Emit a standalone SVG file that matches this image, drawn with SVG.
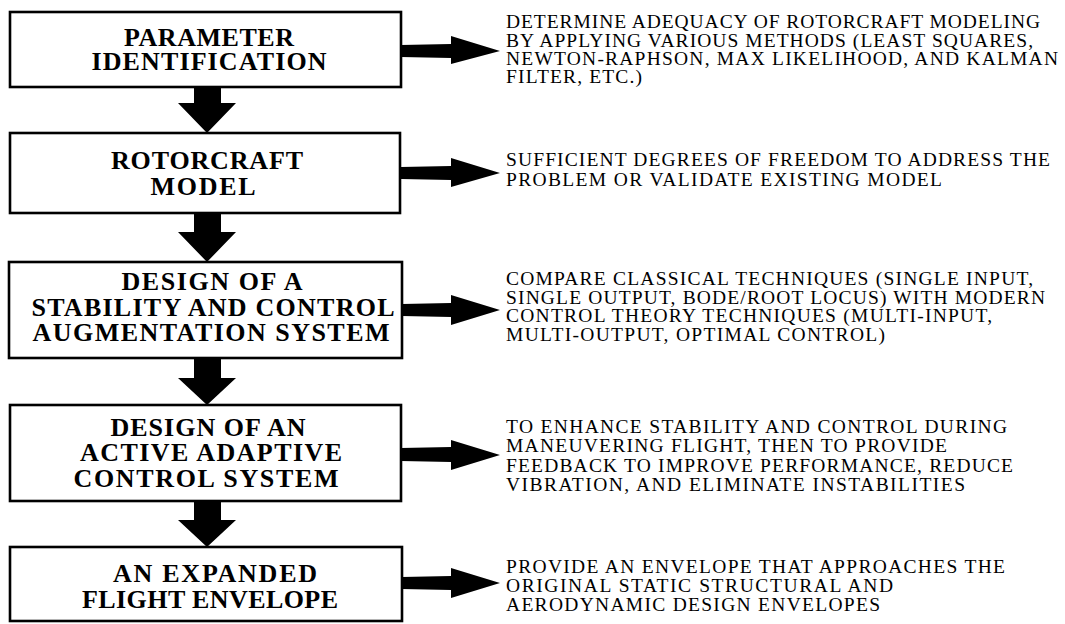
<svg xmlns="http://www.w3.org/2000/svg" width="1065" height="624" viewBox="0 0 1065 624">
<style>
.box{fill:#fff;stroke:#000;stroke-width:2.6}
.t{font-family:"Liberation Serif","Times New Roman",serif;font-weight:bold;font-size:26px;text-anchor:middle;fill:#000}
.d{font-family:"Liberation Serif","Times New Roman",serif;font-size:19.5px;fill:#000}
.arr{fill:#000;stroke:none}
</style>
<rect width="1065" height="624" fill="#fff"/>
<g id="connectors">
<polygon class="arr" points="194,86 221,86 221,103 236,103 207,133 178,103 194,103"/>
<polygon class="arr" points="194,212 221,212 221,232 236,232 207,262 178,232 194,232"/>
<polygon class="arr" points="194,357 221,357 221,378 236,378 207,405 178,378 194,378"/>
<polygon class="arr" points="194,500 221,500 221,520 236,520 207,547 178,520 194,520"/>
<polygon class="arr" points="401,45 451,44 451,36 500,51 451,64 451,58 401,57"/>
<polygon class="arr" points="401,167 451,166 451,158 500,173 451,187 451,180 401,179"/>
<polygon class="arr" points="402,304 451,303 451,295 500,310 451,325 451,317 402,316"/>
<polygon class="arr" points="401,448 451,447 451,440 500,455 451,470 451,462 401,461"/>
<polygon class="arr" points="402,577 451,576 451,568 500,583 451,598 451,590 402,589"/>
</g>
<g id="n1">
<rect class="box" x="10" y="12" width="391" height="75"/>
<text class="t"><tspan x="209" y="46" textLength="170" lengthAdjust="spacing">PARAMETER</tspan><tspan x="209" y="70" textLength="235" lengthAdjust="spacing">IDENTIFICATION</tspan></text>
</g>
<g id="n2">
<rect class="box" x="10" y="133" width="390" height="80"/>
<text class="t"><tspan x="207" y="169" textLength="192" lengthAdjust="spacing">ROTORCRAFT</tspan><tspan x="203" y="195" textLength="105" lengthAdjust="spacing">MODEL</tspan></text>
</g>
<g id="n3">
<rect class="box" x="9" y="262" width="393" height="96"/>
<text class="t"><tspan x="212" y="290" textLength="181" lengthAdjust="spacing">DESIGN OF A</tspan><tspan x="213" y="316" textLength="363" lengthAdjust="spacing">STABILITY AND CONTROL</tspan><tspan x="211" y="341" textLength="357" lengthAdjust="spacing">AUGMENTATION SYSTEM</tspan></text>
</g>
<g id="n4">
<rect class="box" x="10" y="405" width="391" height="96"/>
<text class="t"><tspan x="208" y="436" textLength="195" lengthAdjust="spacing">DESIGN OF AN</tspan><tspan x="211" y="461" textLength="262" lengthAdjust="spacing">ACTIVE ADAPTIVE</tspan><tspan x="206" y="487" textLength="265" lengthAdjust="spacing">CONTROL SYSTEM</tspan></text>
</g>
<g id="n5">
<rect class="box" x="10" y="547" width="392" height="74"/>
<text class="t"><tspan x="215" y="582" textLength="204" lengthAdjust="spacing">AN EXPANDED</tspan><tspan x="210" y="608" textLength="256" lengthAdjust="spacing">FLIGHT ENVELOPE</tspan></text>
</g>
<g id="d1">
<text class="d"><tspan x="506" y="28" textLength="534" lengthAdjust="spacing">DETERMINE ADEQUACY OF ROTORCRAFT MODELING</tspan><tspan x="506" y="46.5" textLength="527" lengthAdjust="spacing">BY APPLYING VARIOUS METHODS (LEAST SQUARES,</tspan><tspan x="506" y="65" textLength="552" lengthAdjust="spacing">NEWTON-RAPHSON, MAX LIKELIHOOD, AND KALMAN</tspan><tspan x="506" y="83" textLength="136" lengthAdjust="spacing">FILTER, ETC.)</tspan></text>
</g>
<g id="d2">
<text class="d"><tspan x="506" y="166" textLength="544" lengthAdjust="spacing">SUFFICIENT DEGREES OF FREEDOM TO ADDRESS THE</tspan><tspan x="506" y="186" textLength="436" lengthAdjust="spacing">PROBLEM OR VALIDATE EXISTING MODEL</tspan></text>
</g>
<g id="d3">
<text class="d"><tspan x="506" y="285" textLength="527" lengthAdjust="spacing">COMPARE CLASSICAL TECHNIQUES (SINGLE INPUT,</tspan><tspan x="506" y="304" textLength="539" lengthAdjust="spacing">SINGLE OUTPUT, BODE/ROOT LOCUS) WITH MODERN</tspan><tspan x="506" y="322" textLength="486" lengthAdjust="spacing">CONTROL THEORY TECHNIQUES (MULTI-INPUT,</tspan><tspan x="506" y="341" textLength="379" lengthAdjust="spacing">MULTI-OUTPUT, OPTIMAL CONTROL)</tspan></text>
</g>
<g id="d4">
<text class="d"><tspan x="506" y="433" textLength="501" lengthAdjust="spacing">TO ENHANCE STABILITY AND CONTROL DURING</tspan><tspan x="506" y="452" textLength="441" lengthAdjust="spacing">MANEUVERING FLIGHT, THEN TO PROVIDE</tspan><tspan x="506" y="472" textLength="507" lengthAdjust="spacing">FEEDBACK TO IMPROVE PERFORMANCE, REDUCE</tspan><tspan x="506" y="491" textLength="459" lengthAdjust="spacing">VIBRATION, AND ELIMINATE INSTABILITIES</tspan></text>
</g>
<g id="d5">
<text class="d"><tspan x="506" y="573" textLength="499" lengthAdjust="spacing">PROVIDE AN ENVELOPE THAT APPROACHES THE</tspan><tspan x="506" y="592" textLength="387" lengthAdjust="spacing">ORIGINAL STATIC STRUCTURAL AND</tspan><tspan x="506" y="611" textLength="374" lengthAdjust="spacing">AERODYNAMIC DESIGN ENVELOPES</tspan></text>
</g>
</svg>
